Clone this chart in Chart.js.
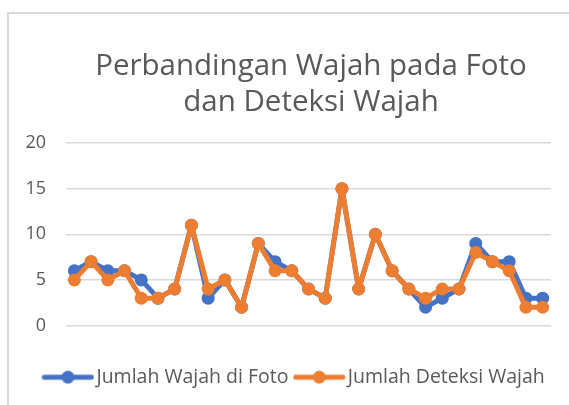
<!DOCTYPE html>
<html>
<head>
<meta charset="utf-8">
<script src="https://cdn.jsdelivr.net/npm/chart.js@4.4.0/dist/chart.umd.min.js"></script>
<style>
  body { margin: 0; background: #fff; overflow: hidden; width: 569px; height: 405px; position: relative; }
  .frame { position: absolute; left: 7px; top: 12px; width: 568px; height: 400px; border: 2px solid #d9d9d9; }
  .title { position: absolute; left: 0; width: 622px; top: 46px; text-align: center;
    font-family: "Open Sans", sans-serif; font-size: 29.5px; line-height: 36px; color: #595959; }
  canvas { position: absolute; left: 0; top: 0; }
</style>
</head>
<body>
<div class="frame"><canvas id="myChart" width="568" height="400"></canvas></div>
<div class="title">Perbandingan Wajah pada Foto<br>dan Deteksi Wajah</div>
<script>
const labels = ['1','2','3','4','5','6','7','8','9','10','11','12','13','14','15','16','17','18','19','20','21','22','23','24','25','26','27','28','29'];
const jumlahWajah   = [6,7,6,6,5,3,4,11,3,5,2,9,7,6,4,3,15,4,10,6,4,2,3,4,9,7,7,3,3];
const jumlahDeteksi = [5,7,5,6,3,3,4,11,4,5,2,9,6,6,4,3,15,4,10,6,4,3,4,4,8,7,6,2,2];
const yTicks = [0,5,10,15,20];

const BLUE = '#4472c4';
const ORANGE = '#ed7d31';

// legend marker: line with a dot, like the office style
function marker(color) {
  let c = document.createElement('canvas');
  c.width = 53; c.height = 14;
  let ctx = c.getContext('2d');
  ctx.strokeStyle = color;
  ctx.lineWidth = 5;
  ctx.lineCap = 'round';
  ctx.beginPath(); ctx.moveTo(3, 7); ctx.lineTo(50, 7); ctx.stroke();
  ctx.fillStyle = color;
  ctx.beginPath(); ctx.arc(26.5, 7, 6.5, 0, Math.PI * 2); ctx.fill();
  return c;
}

// legend sits a bit right of the plot centre in the original
const shiftLegend = {
  id: 'shiftLegend',
  afterLayout(chart) {
    chart.legend.left += 17;
    chart.legend.right += 17;
  }
};

const data = {
  labels: labels,
  datasets: [
    {
      label: 'Jumlah Wajah di Foto',
      data: jumlahWajah,
      borderColor: BLUE,
      backgroundColor: BLUE,
      pointBackgroundColor: BLUE,
      legendStyle: marker(BLUE),
      order: 1,
    },
    {
      label: 'Jumlah Deteksi Wajah',
      data: jumlahDeteksi,
      borderColor: ORANGE,
      backgroundColor: ORANGE,
      pointBackgroundColor: ORANGE,
      legendStyle: marker(ORANGE),
      order: 0,
    }
  ]
};

const config = {
  type: 'line',
  data: data,
  plugins: [shiftLegend],
  options: {
    responsive: false,
    animation: false,
    layout: { padding: { top: 129, right: 26, left: 0, bottom: 17 } },
    elements: {
      line: { borderWidth: 5, tension: 0, borderJoinStyle: 'round', borderCapStyle: 'round' },
      point: { radius: 6.5, borderWidth: 0, pointStyle: 'circle' }
    },
    plugins: {
      title: { display: false },
      tooltip: { enabled: false },
      legend: {
        position: 'bottom',
        labels: {
          usePointStyle: true,
          pointStyleWidth: 37.5,
          padding: 12,
          color: '#595959',
          font: { family: '"Open Sans", sans-serif', size: 19.5 },
          sort: (a, b) => a.datasetIndex - b.datasetIndex,
          generateLabels: chart => {
            let items = Chart.defaults.plugins.legend.labels.generateLabels(chart);
            items.forEach(it => { it.pointStyle = chart.data.datasets[it.datasetIndex].legendStyle; });
            return items;
          }
        }
      }
    },
    scales: {
      x: {
        offset: true,
        grid: { display: false },
        border: { display: false },
        ticks: { display: false },
        afterFit: s => { s.height = 30; }
      },
      y: {
        min: 0,
        max: 20,
        afterBuildTicks: s => { s.ticks = yTicks.map(v => ({ value: v })); },
        grid: { color: '#d9d9d9', lineWidth: 1.5, drawTicks: false },
        border: { display: false },
        ticks: {
          padding: 20,
          color: '#595959',
          font: { family: '"Open Sans", sans-serif', size: 18 }
        },
        afterFit: s => { s.width = 57; }
      }
    }
  }
};

new Chart(document.getElementById('myChart'), config);
</script>
</body>
</html>
